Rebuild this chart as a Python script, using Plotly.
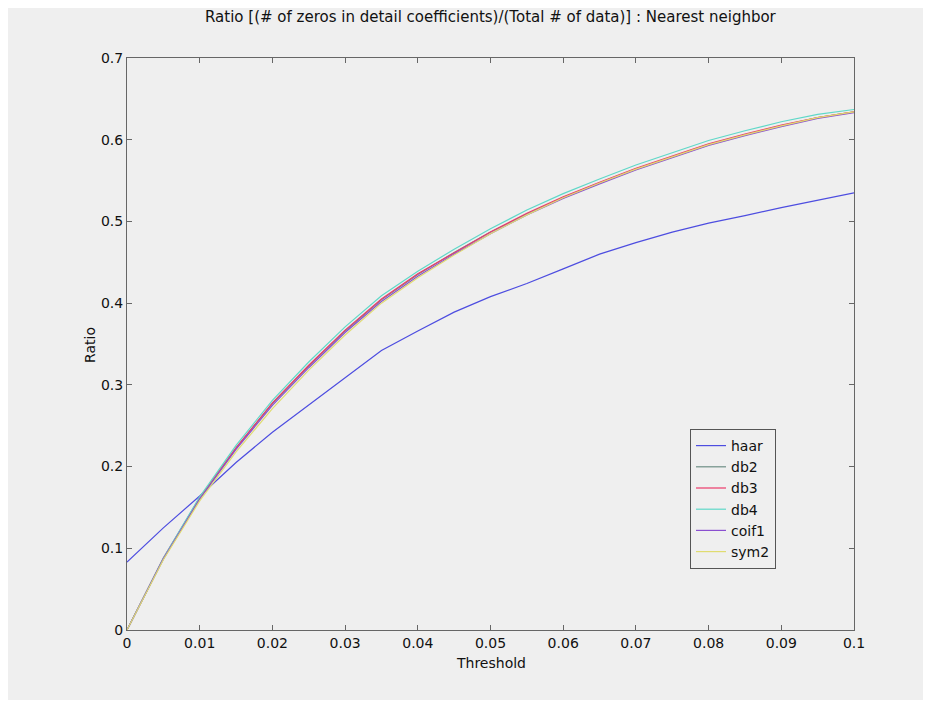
import plotly.graph_objects as go

threshold = [0.000, 0.005, 0.010, 0.015, 0.020, 0.025, 0.030, 0.035, 0.040, 0.045, 0.050,
             0.055, 0.060, 0.065, 0.070, 0.075, 0.080, 0.085, 0.090, 0.095, 0.100]

haar = [0.083, 0.125, 0.164, 0.205, 0.242, 0.275, 0.308, 0.342, 0.366, 0.389, 0.408,
        0.424, 0.442, 0.460, 0.474, 0.487, 0.498, 0.507, 0.517, 0.526, 0.535]
db2 = [0.000, 0.087, 0.161, 0.223, 0.277, 0.323, 0.366, 0.404, 0.435, 0.462, 0.487,
       0.509, 0.529, 0.547, 0.564, 0.579, 0.594, 0.606, 0.617, 0.627, 0.634]
db3 = [0.000, 0.088, 0.162, 0.223, 0.278, 0.324, 0.367, 0.405, 0.436, 0.462, 0.487,
       0.510, 0.530, 0.548, 0.565, 0.580, 0.595, 0.607, 0.618, 0.627, 0.634]
db4 = [0.000, 0.088, 0.163, 0.226, 0.281, 0.328, 0.371, 0.409, 0.439, 0.466, 0.491,
       0.514, 0.534, 0.552, 0.569, 0.584, 0.599, 0.611, 0.622, 0.631, 0.637]
coif1 = [0.000, 0.087, 0.160, 0.221, 0.275, 0.321, 0.364, 0.402, 0.433, 0.460, 0.485,
         0.508, 0.528, 0.546, 0.563, 0.578, 0.593, 0.605, 0.616, 0.626, 0.633]
sym2 = [0.000, 0.086, 0.158, 0.218, 0.271, 0.318, 0.361, 0.400, 0.431, 0.459, 0.485,
        0.508, 0.529, 0.547, 0.564, 0.579, 0.594, 0.606, 0.617, 0.627, 0.634]

series_names = ["haar", "db2", "db3", "db4", "coif1", "sym2"]
series_values = [haar, db2, db3, db4, coif1, sym2]
series_colors = ["#4d4de0", "#6f8f86", "#ec3a6a", "#5fd8c8", "#8a4fd0", "#e0dc70"]

x_ticks = [0, 0.01, 0.02, 0.03, 0.04, 0.05, 0.06, 0.07, 0.08, 0.09, 0.1]
x_ticktext = ["0", "0.01", "0.02", "0.03", "0.04", "0.05", "0.06", "0.07", "0.08", "0.09", "0.1"]
y_ticks = [0, 0.1, 0.2, 0.3, 0.4, 0.5, 0.6, 0.7]
y_ticktext = ["0", "0.1", "0.2", "0.3", "0.4", "0.5", "0.6", "0.7"]

title_text = "Ratio [(# of zeros in detail coefficients)/(Total # of data)] : Nearest neighbor"

FONT = "DejaVu Sans, Liberation Sans, Arial, sans-serif"
BG = "#efefef"
AX = "#666666"
TXT = "#111111"

fig = go.Figure()
for name, vals, col in zip(series_names, series_values, series_colors):
    fig.add_trace(go.Scatter(x=threshold, y=vals, mode="lines", name=name,
                             line=dict(color=col, width=1.2)))

# page offset of the figure (body margin)
OFF = 8
W, H = 931 - OFF, 703 - OFF
# plot box in page pixels
L, R, T, B = 127, 854, 58, 630
pw, ph = R - L, B - T

def px(x):
    return (x - L) / pw

def py(y):
    return (B - y) / ph

axis_common = dict(showgrid=False, zeroline=False, showline=True, linecolor=AX, linewidth=1,
                   mirror="ticks", ticks="inside", ticklen=5, tickcolor=AX,
                   tickfont=dict(family=FONT, size=14, color=TXT))

fig.update_layout(
    width=W, height=H,
    margin=dict(l=L - OFF, r=W - (R - OFF), t=T - OFF, b=H - (B - OFF), pad=0),
    paper_bgcolor="white",
    plot_bgcolor="rgba(0,0,0,0)",
    font=dict(family=FONT, size=14, color=TXT),
    showlegend=True,
    legend=dict(x=px(690), y=py(429), xanchor="left", yanchor="top",
                bgcolor=BG, bordercolor="#555555", borderwidth=1,
                font=dict(family=FONT, size=14, color=TXT),
                tracegroupgap=0, itemwidth=30),
    xaxis=dict(range=[0, 0.1], tickvals=x_ticks, ticktext=x_ticktext, **axis_common),
    yaxis=dict(range=[0, 0.7], tickvals=y_ticks, ticktext=y_ticktext, **axis_common),
    shapes=[dict(type="rect", xref="paper", yref="paper", layer="below",
                 x0=px(OFF), x1=px(926), y0=py(700), y1=py(OFF),
                 fillcolor=BG, line=dict(width=0))],
    annotations=[
        dict(text=title_text, xref="paper", yref="paper", x=px(491), y=py(6),
             xanchor="center", yanchor="top", showarrow=False,
             font=dict(family=FONT, size=15, color=TXT)),
        dict(text="Threshold", xref="paper", yref="paper", x=px(491), y=py(663),
             xanchor="center", yanchor="middle", showarrow=False,
             font=dict(family=FONT, size=14, color=TXT)),
        dict(text="Ratio", xref="paper", yref="paper", x=px(90), y=py(345),
             xanchor="center", yanchor="middle", showarrow=False, textangle=-90,
             font=dict(family=FONT, size=14, color=TXT)),
    ],
)

fig.write_html("out.html")
